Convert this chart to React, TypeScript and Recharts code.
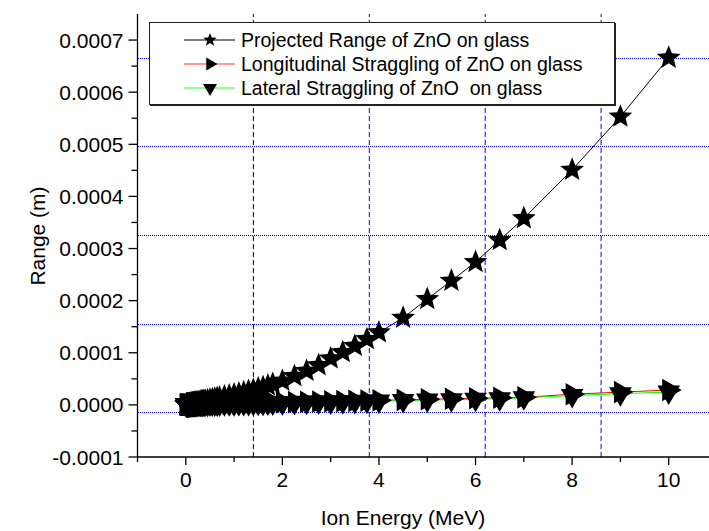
import React from 'react';
import { LineChart, Line, XAxis, YAxis, ReferenceLine, Label } from 'recharts';

// Ion energies (MeV), SRIM-style table
const energy = [
  0.01, 0.011, 0.012, 0.013, 0.014, 0.016, 0.018, 0.02, 0.0225, 0.025, 0.0275, 0.03,
  0.035, 0.04, 0.045, 0.05, 0.055, 0.06, 0.065, 0.07, 0.08, 0.09,
  0.1, 0.11, 0.12, 0.13, 0.14, 0.15, 0.16, 0.17, 0.18,
  0.2, 0.225, 0.25, 0.275, 0.3, 0.325, 0.35, 0.375, 0.4,
  0.45, 0.5, 0.55, 0.6, 0.65, 0.7, 0.8, 0.9,
  1.0, 1.1, 1.2, 1.3, 1.4, 1.5, 1.6, 1.7, 1.8,
  2.0, 2.25, 2.5, 2.75, 3.0, 3.25, 3.5, 3.75, 4.0,
  4.5, 5.0, 5.5, 6.0, 6.5, 7.0, 8.0, 9.0, 10.0,
];

// values in micrometres (axis labels are printed in metres)
const projectedRange = [
  0.3, 0.32, 0.34, 0.36, 0.38, 0.42, 0.46, 0.5, 0.55, 0.6, 0.65, 0.7,
  0.8, 0.9, 1.0, 1.1, 1.2, 1.3, 1.4, 1.5, 1.7, 1.9,
  2.1, 2.3, 2.5, 2.7, 2.9, 3.1, 3.3, 3.5, 3.7,
  4.1, 4.6, 5.1, 5.6, 6.1, 6.6, 7.0, 7.5, 8.0,
  9.0, 10.0, 11.0, 12.0, 13.0, 14.0, 16.0, 18.0,
  20, 22, 24, 26.5, 29, 31.5, 34, 37, 40,
  46, 55, 65, 76, 89, 101, 113, 126, 139,
  167, 203, 238, 274, 316, 358, 451, 553, 666,
];

const longStraggling = [
  0.12, 0.13, 0.14, 0.15, 0.16, 0.17, 0.19, 0.2, 0.22, 0.24, 0.25, 0.27,
  0.3, 0.33, 0.36, 0.39, 0.42, 0.44, 0.47, 0.49, 0.53, 0.58,
  0.62, 0.66, 0.7, 0.74, 0.77, 0.81, 0.84, 0.88, 0.91,
  0.97, 1.05, 1.12, 1.19, 1.26, 1.32, 1.38, 1.44, 1.5,
  1.6, 1.7, 1.8, 1.9, 2.0, 2.1, 2.3, 2.5,
  2.7, 2.9, 3.1, 3.3, 3.5, 3.7, 3.9, 4.1, 4.3,
  4.7, 5.2, 5.7, 6.2, 6.7, 7.2, 7.7, 8.2, 8.7,
  9.7, 10.7, 11.7, 12.7, 13.7, 14.5, 20.5, 24.5, 28.5,
];

const latStraggling = [
  0.1, 0.11, 0.12, 0.13, 0.14, 0.15, 0.16, 0.17, 0.19, 0.2, 0.22, 0.23,
  0.26, 0.28, 0.31, 0.33, 0.36, 0.38, 0.4, 0.42, 0.45, 0.49,
  0.53, 0.56, 0.6, 0.63, 0.66, 0.69, 0.72, 0.75, 0.78,
  0.83, 0.9, 0.96, 1.02, 1.08, 1.13, 1.18, 1.23, 1.28,
  1.37, 1.46, 1.55, 1.63, 1.72, 1.8, 1.97, 2.14,
  2.3, 2.48, 2.65, 2.82, 3.0, 3.17, 3.34, 3.5, 3.68,
  4.0, 4.45, 4.9, 5.3, 5.75, 6.2, 6.6, 7.0, 7.45,
  8.3, 9.2, 10.0, 10.9, 11.8, 13.5, 18, 21.5, 24.5,
];

const bottomTicks = [-1, 0, 1, 2, 3, 4, 5, 6, 7, 8, 9, 10, 11];
const leftTicks = [-100, -50, 0, 50, 100, 150, 200, 250, 300, 350, 400, 450, 500, 550, 600, 650, 700];
const topTicks = [-1, 0.2, 1.4, 2.6, 3.8, 5.0, 6.2, 7.4, 8.6, 9.8, 11];
const topMajor = [-1, 1.4, 3.8, 6.2, 8.6, 11];
const rightTicks = [70, 240, 410, 580];
const hGrid = [-15, 155, 325, 495, 665];
const hGridColor = ['#0000ff', '#0000ff', '#000033', '#0000ff', '#0000ff'];
const vGrid = [1.4, 3.8, 6.2, 8.6];
const vGridColor = ['#000044', '#0000ff', '#0000ff', '#0000ff'];

const data = energy.map((e, i) => ({
  e,
  pr: projectedRange[i],
  ls: longStraggling[i],
  lt: latStraggling[i],
}));

const FONT = '"Liberation Sans", Arial, sans-serif';

const starPath = (cx: number, cy: number, R: number, r: number) => {
  let d = '';
  for (let k = 0; k < 10; k++) {
    const a = ((-90 + k * 36) * Math.PI) / 180;
    const rad = k % 2 === 0 ? R : r;
    d += (k === 0 ? 'M' : 'L') + (cx + rad * Math.cos(a)).toFixed(2) + ',' + (cy + rad * Math.sin(a)).toFixed(2);
  }
  return d + 'Z';
};
const triRight = (cx: number, cy: number, s: number) =>
  `M${cx + s},${cy}L${cx - s * 0.5},${cy - s * 0.87}L${cx - s * 0.5},${cy + s * 0.87}Z`;
const triDown = (cx: number, cy: number, s: number) =>
  `M${cx},${cy + s}L${cx - s * 0.87},${cy - s * 0.5}L${cx + s * 0.87},${cy - s * 0.5}Z`;

const StarDot = (p: any) => <path key={`st-${p.index}`} d={starPath(p.cx, p.cy, 12.5, 5.5)} fill="#000" />;
const RightDot = (p: any) => <path key={`tr-${p.index}`} d={triRight(p.cx, p.cy, 13)} fill="#000" />;
const DownDot = (p: any) => <path key={`td-${p.index}`} d={triDown(p.cx, p.cy, 13)} fill="#000" />;

const LeftTick = ({ x, y, payload }: any) => {
  const v = payload.value;
  const major = v % 100 === 0;
  return (
    <g>
      <line x1={x - (major ? 9 : 6)} x2={x} y1={y} y2={y} stroke="#000" strokeWidth={1.3} />
      {major && (
        <text x={x - 14} y={y} dy={7.5} textAnchor="end" fontSize={21} fontFamily={FONT} fill="#000">
          {(v / 1e6).toFixed(4)}
        </text>
      )}
    </g>
  );
};

const BottomTick = ({ x, y, payload }: any) => {
  const v = payload.value;
  const major = v % 2 === 0;
  const show = major && v >= 0 && v <= 10;
  return (
    <g>
      <line x1={x} x2={x} y1={y} y2={y + (major ? 8 : 5)} stroke="#000" strokeWidth={1.3} />
      {show && (
        <text x={x} y={y + 30} textAnchor="middle" fontSize={21} fontFamily={FONT} fill="#000">
          {v}
        </text>
      )}
    </g>
  );
};

const TopTick = ({ x, y, payload }: any) => {
  const major = topMajor.includes(payload.value);
  return <line x1={x} x2={x} y1={y} y2={y + (major ? 9 : 5)} stroke="#000" strokeWidth={1.3} />;
};

const RightTick = ({ x, y }: any) => <line x1={x - 12} x2={x} y1={y} y2={y} stroke="#000" strokeWidth={1.3} />;

const legendItems = [
  { name: 'Projected Range of ZnO on glass', color: '#000000', marker: 'star' },
  { name: 'Longitudinal Straggling of ZnO on glass', color: '#ff3030', marker: 'right' },
  { name: 'Lateral Straggling of ZnO  on glass', color: '#30ff30', marker: 'down' },
];

const ChartLegend = () => (
  <div
    style={{
      position: 'absolute',
      left: 149,
      top: 22,
      width: 464,
      height: 81,
      border: '1px solid #222',
      boxShadow: '1px 1px 0 #222',
      background: '#fff',
    }}
  >
    <svg width={464} height={81}>
      {legendItems.map((it, i) => {
        const cy = 17 + i * 24;
        const cx = 60;
        return (
          <g key={it.name}>
            <line x1={34} x2={85} y1={cy} y2={cy} stroke={it.color} strokeWidth={1} />
            {it.marker === 'star' && <path d={starPath(cx, cy, 7, 3)} fill="#000" />}
            {it.marker === 'right' && <path d={triRight(cx, cy, 7.5)} fill="#000" />}
            {it.marker === 'down' && <path d={triDown(cx, cy, 8)} fill="#000" />}
            <text x={91} y={cy + 7} fontSize={19.5} fontFamily={FONT} fill="#000" style={{ whiteSpace: 'pre' }}>
              {it.name}
            </text>
          </g>
        );
      })}
    </svg>
  </div>
);

export default function App() {
  return (
    <div style={{ position: 'absolute', left: 0, top: 0, width: 709, height: 531, overflow: 'hidden', background: '#fff' }}>
      <LineChart width={720} height={531} data={data} margin={{ top: 14, right: 3, bottom: 0, left: 0 }}>
        <XAxis
          dataKey="e"
          type="number"
          domain={[-1, 11]}
          ticks={bottomTicks}
          interval={0}
          height={74}
          tickSize={0}
          tickMargin={0}
          tick={<BottomTick />}
          stroke="#000"
          strokeWidth={1.3}
          allowDataOverflow
        >
          <Label
            content={() => (
              <text x={403} y={525} textAnchor="middle" fontSize={21} fontFamily={FONT} fill="#000">
                Ion Energy (MeV)
              </text>
            )}
          />
        </XAxis>
        <XAxis
          xAxisId="top"
          orientation="top"
          dataKey="e"
          type="number"
          domain={[-1, 11]}
          ticks={topTicks}
          interval={0}
          height={0}
          tickSize={0}
          tickMargin={0}
          tick={<TopTick />}
          stroke="#000"
          strokeWidth={1.3}
          allowDataOverflow
        />
        <YAxis
          type="number"
          domain={[-100, 750]}
          ticks={leftTicks}
          interval={0}
          width={137.5}
          tickSize={0}
          tickMargin={0}
          tick={<LeftTick />}
          stroke="#000"
          strokeWidth={1.3}
          allowDataOverflow
        >
          <Label
            content={() => (
              <text
                x={37}
                y={236}
                transform="rotate(-90 37 236)"
                textAnchor="middle"
                dy={7.5}
                fontSize={21}
                fontFamily={FONT}
                fill="#000"
              >
                Range (m)
              </text>
            )}
          />
        </YAxis>
        <YAxis
          yAxisId="right"
          orientation="right"
          type="number"
          domain={[-100, 750]}
          ticks={rightTicks}
          interval={0}
          width={0}
          tickSize={0}
          tickMargin={0}
          tick={<RightTick />}
          stroke="#000"
          strokeWidth={1.3}
          allowDataOverflow
        />
        {hGrid.map((v, i) => (
          <ReferenceLine
            key={`h-${v}`}
            y={v}
            stroke={hGridColor[i]}
            strokeWidth={1}
            strokeDasharray="1 1"
            shapeRendering="crispEdges"
          />
        ))}
        {vGrid.map((v, i) => (
          <ReferenceLine key={`v-${v}`} x={v} stroke={vGridColor[i]} strokeWidth={1} strokeDasharray="5 3" />
        ))}
        <Line dataKey="pr" stroke="#000" strokeWidth={1} dot={StarDot} activeDot={false} isAnimationActive={false} />
        <Line dataKey="ls" stroke="#ff0000" strokeWidth={1} dot={RightDot} activeDot={false} isAnimationActive={false} />
        <Line dataKey="lt" stroke="#00ff00" strokeWidth={1} dot={DownDot} activeDot={false} isAnimationActive={false} />
      </LineChart>
      <ChartLegend />
    </div>
  );
}
